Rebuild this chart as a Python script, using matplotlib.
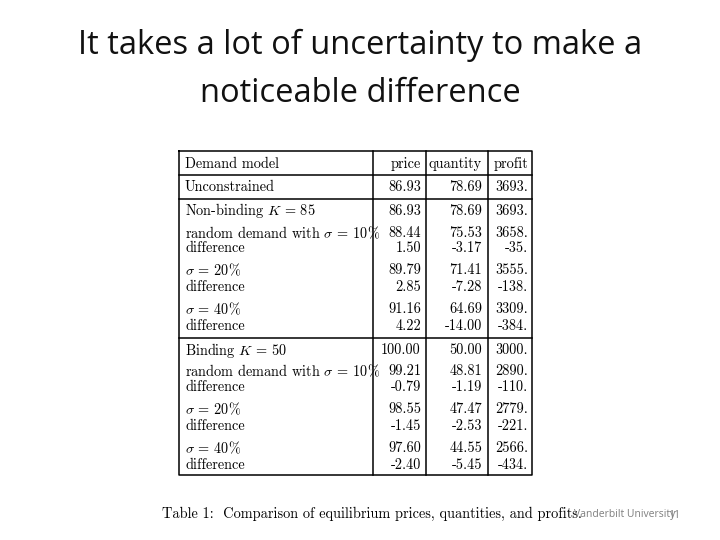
import matplotlib.pyplot as plt

plt.rcParams['mathtext.fontset'] = 'cm'

# table contents
header = ['Demand model', 'price', 'quantity', 'profit']
labels = ['Unconstrained', r'Non-binding $K$ = 85',
          r'random demand with $\sigma$ = 10%', 'difference',
          r'$\sigma$ = 20%', 'difference', r'$\sigma$ = 40%', 'difference',
          r'Binding $K$ = 50',
          r'random demand with $\sigma$ = 10%', 'difference',
          r'$\sigma$ = 20%', 'difference', r'$\sigma$ = 40%', 'difference']
price = ['86.93', '86.93', '88.44', '1.50', '89.79', '2.85', '91.16', '4.22',
         '100.00', '99.21', '-0.79', '98.55', '-1.45', '97.60', '-2.40']
quantity = ['78.69', '78.69', '75.53', '-3.17', '71.41', '-7.28', '64.69', '-14.00',
            '50.00', '48.81', '-1.19', '47.47', '-2.53', '44.55', '-5.45']
profit = ['3693.', '3693.', '3658.', '-35.', '3555.', '-138.', '3309.', '-384.',
          '3000.', '2890.', '-110.', '2779.', '-221.', '2566.', '-434.']

row_y = [187, 211, 233, 248, 270, 287, 309, 326, 350, 371, 387, 409, 426, 448, 465]

fig = plt.figure(figsize=(7.2, 5.4), dpi=100)
ax = fig.add_axes([0, 0, 1, 1])
ax.set_xlim(0, 720)
ax.set_ylim(540, 0)
ax.axis('off')

title_kw = dict(family='Open Sans', fontsize=23.5, ha='center', va='center', color='#111111')
ax.text(360, 45, 'It takes a lot of uncertainty to make a', **title_kw)
ax.text(360, 93, 'noticeable difference', **title_kw)

# table frame
left, right, top, bottom = 179, 532, 151, 475
cols = [373, 426, 488]
lw = 1.1
ax.plot([left, right, right, left, left], [top, top, bottom, bottom, top], color='k', lw=lw)
for c in cols:
    ax.plot([c, c], [top, bottom], color='k', lw=lw)
for yy in [175, 199, 338]:
    ax.plot([left, right], [yy, yy], color='k', lw=lw)

tkw = dict(family='cmr10', fontsize=10.3, va='center', color='k')
rights = [421, 482, 528]
ax.text(185, 164, header[0], ha='left', **tkw)
for x, h in zip(rights, header[1:]):
    ax.text(x, 164, h, ha='right', **tkw)
for y, lab, p, q, pr in zip(row_y, labels, price, quantity, profit):
    ax.text(185, y, lab, ha='left', **tkw)
    ax.text(rights[0], y, p, ha='right', **tkw)
    ax.text(rights[1], y, q, ha='right', **tkw)
    ax.text(rights[2], y, pr, ha='right', **tkw)

ax.text(162, 514, 'Table 1:  Comparison of equilibrium prices, quantities, and profits.',
        ha='left', **tkw)

ax.text(574, 515, 'Vanderbilt University', family='Open Sans', fontsize=7.5,
        color='#7f7f7f', ha='left', va='center')
ax.text(680, 515, '11', family='Open Sans', fontsize=7.5, color='#7f7f7f',
        ha='right', va='center')

fig.savefig('out.png', dpi=100)
